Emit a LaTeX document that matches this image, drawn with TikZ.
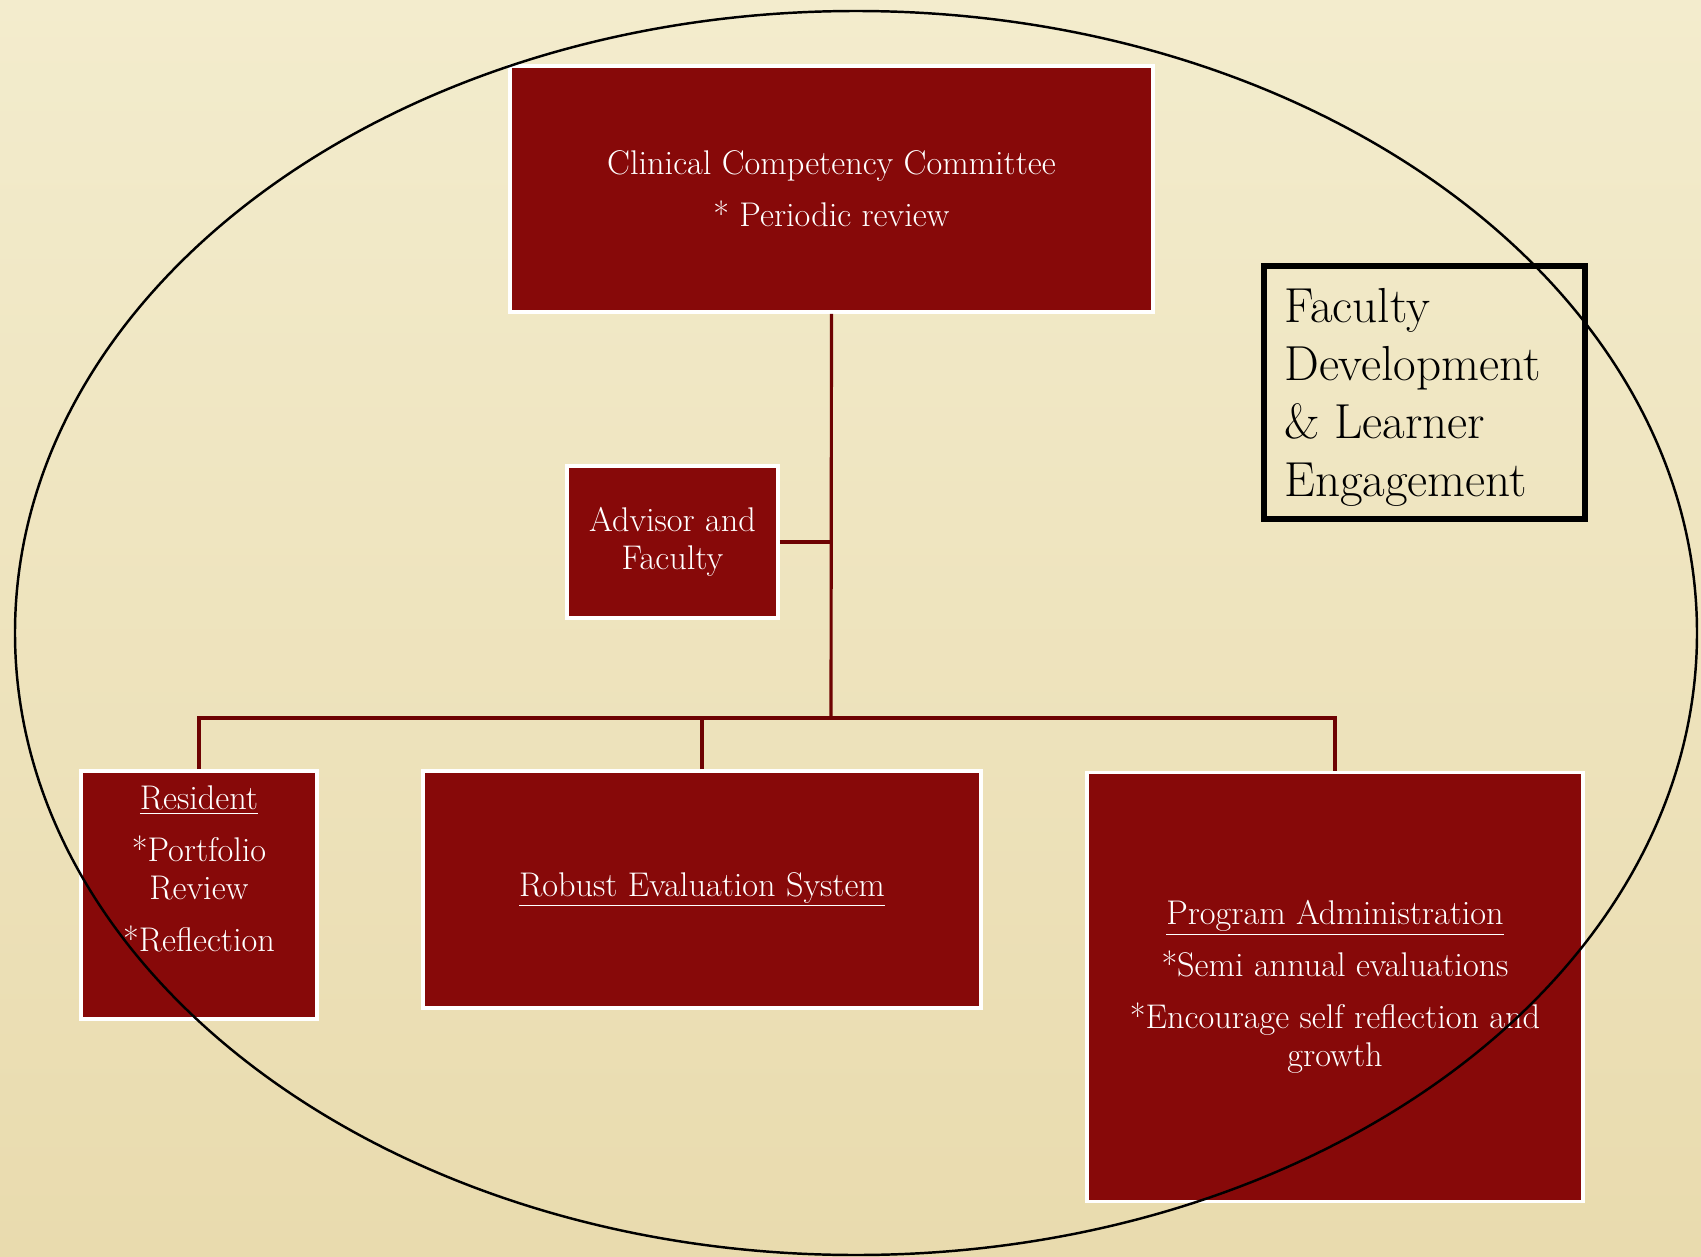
\documentclass[tikz,border=0pt]{standalone}
\usetikzlibrary{calc}
\definecolor{boxred}{HTML}{870909}
\definecolor{linered}{HTML}{6E0202}
\definecolor{bgtop}{HTML}{F3ECCD}
\definecolor{bgbot}{HTML}{E9DBAE}
\begin{document}
\begin{tikzpicture}[x=0.02cm,y=-0.02cm,
  redbox/.style={draw=white,line width=2.2pt,fill=boxred,text=white,inner sep=0pt,align=center,font=\fontsize{19.5}{21.5}\selectfont},
  conn/.style={draw=linered,line width=1.8pt},
  ring/.style={draw=black,line width=1.4pt}]
% background
\shade[top color=bgtop,bottom color=bgbot] (0,0) rectangle (1701,1257);
\useasboundingbox (0,0) rectangle (1701,1257);
% boxes
\node[redbox,minimum width=12.86cm,minimum height=4.92cm] (ccc) at (831.5,189)
  {Clinical Competency Committee\\[8pt]* Periodic review};
\node[redbox,minimum width=4.22cm,minimum height=3.04cm] (adv) at (672.5,542)
  {Advisor and\\Faculty};
\node[redbox,minimum width=4.72cm,minimum height=4.96cm] (res) at (199,895) {};
\node[text=white,align=center,font=\fontsize{19.5}{21.5}\selectfont] (restext) at (199,869)
  {\underline{Resident}\\[8pt]*Portfolio\\Review\\[8pt]*Reflection};
\node[redbox,minimum width=11.16cm,minimum height=4.74cm] (rob) at (702,889.5)
  {\underline{Robust Evaluation System}};
\node[redbox,minimum width=9.92cm,minimum height=8.58cm] (prog) at (1335,987)
  {\underline{Program Administration}\\[8pt]*Semi annual evaluations\\[8pt]*Encourage self reflection and\\growth};
% connectors
\coordinate (j) at (831,718);
\draw[conn] (ccc.south) -- (j);
\draw[conn] (adv.east) -- (adv.east -| j);
\draw[conn] (res.north) |- (prog.north |- j) -- (prog.north);
\draw[conn] (rob.north) -- (rob.north |- j);
% faculty box
\node[draw=black,line width=3pt,minimum width=6.42cm,minimum height=5.06cm] (fac) at (1424.5,392.5) {};
\node[anchor=west,align=left,font=\fontsize{28}{33}\selectfont] (factext) at (1278,397)
  {Faculty\\Development\\\& Learner\\Engagement};
% ellipse
\draw[ring] (856,633) ellipse [x radius=841, y radius=622];
\end{tikzpicture}
\end{document}
